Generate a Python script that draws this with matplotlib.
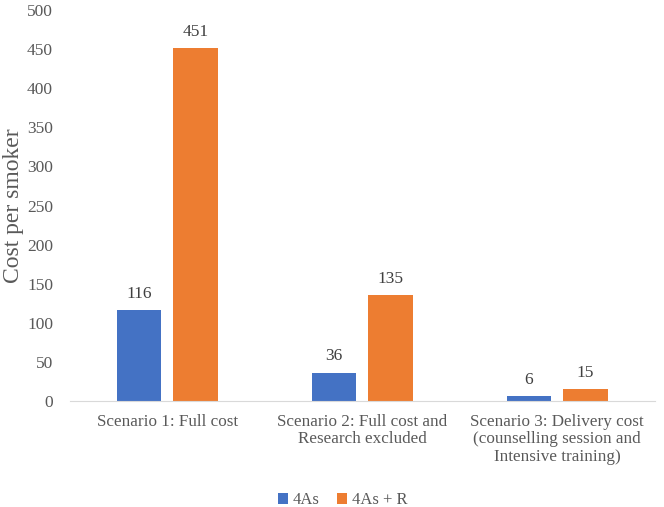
import numpy as np
import matplotlib.pyplot as plt

categories = ['Scenario 1: Full cost',
              'Scenario 2: Full cost and\nResearch excluded',
              'Scenario 3: Delivery cost\n(counselling session and\nIntensive training)']
series_names = ['4As', '4As + R']
vals_4as = [116, 36, 6]
vals_4asr = [451, 135, 15]

plt.rcParams['font.family'] = ['Liberation Serif', 'DejaVu Serif']
grey = '#595959'

fig = plt.figure(figsize=(6.64, 5.07), dpi=100)
ax = fig.add_axes([0.105, 0.209, 0.881, 0.771])

x = np.arange(len(categories))
w = 0.226
off = 0.145
b1 = ax.bar(x - off, vals_4as, w, color='#4472C4', label=series_names[0])
b2 = ax.bar(x + off, vals_4asr, w, color='#ED7D31', label=series_names[1])

for bars in (b1, b2):
    for r in bars:
        ax.text(r.get_x() + r.get_width() / 2, r.get_height() + 11, str(int(r.get_height())),
                ha='center', va='bottom', fontsize=12.5, color='#404040')

ax.set_xlim(-0.5, 2.5)
ax.set_ylim(0, 500)
ax.set_yticks(range(0, 501, 50))
ax.set_xticks(x)
ax.set_xticklabels(categories, fontsize=12.3, color=grey, linespacing=1.15)
ax.tick_params(axis='y', labelsize=12.5, labelcolor=grey, length=0, pad=12)
ax.tick_params(axis='x', length=0, pad=9)
for s in ('top', 'right', 'left'):
    ax.spines[s].set_visible(False)
ax.spines['bottom'].set_color('#D9D9D9')
ax.set_ylabel('Cost per smoker', fontsize=17, color=grey)
ax.yaxis.set_label_coords(-0.078, 0.5)

fig.legend(loc='center', bbox_to_anchor=(0.516, 0.013), ncol=2, frameon=False,
           fontsize=12, labelcolor=grey, handlelength=0.6, handleheight=0.6,
           handletextpad=0.3, columnspacing=1.0)

fig.savefig('out.png')
